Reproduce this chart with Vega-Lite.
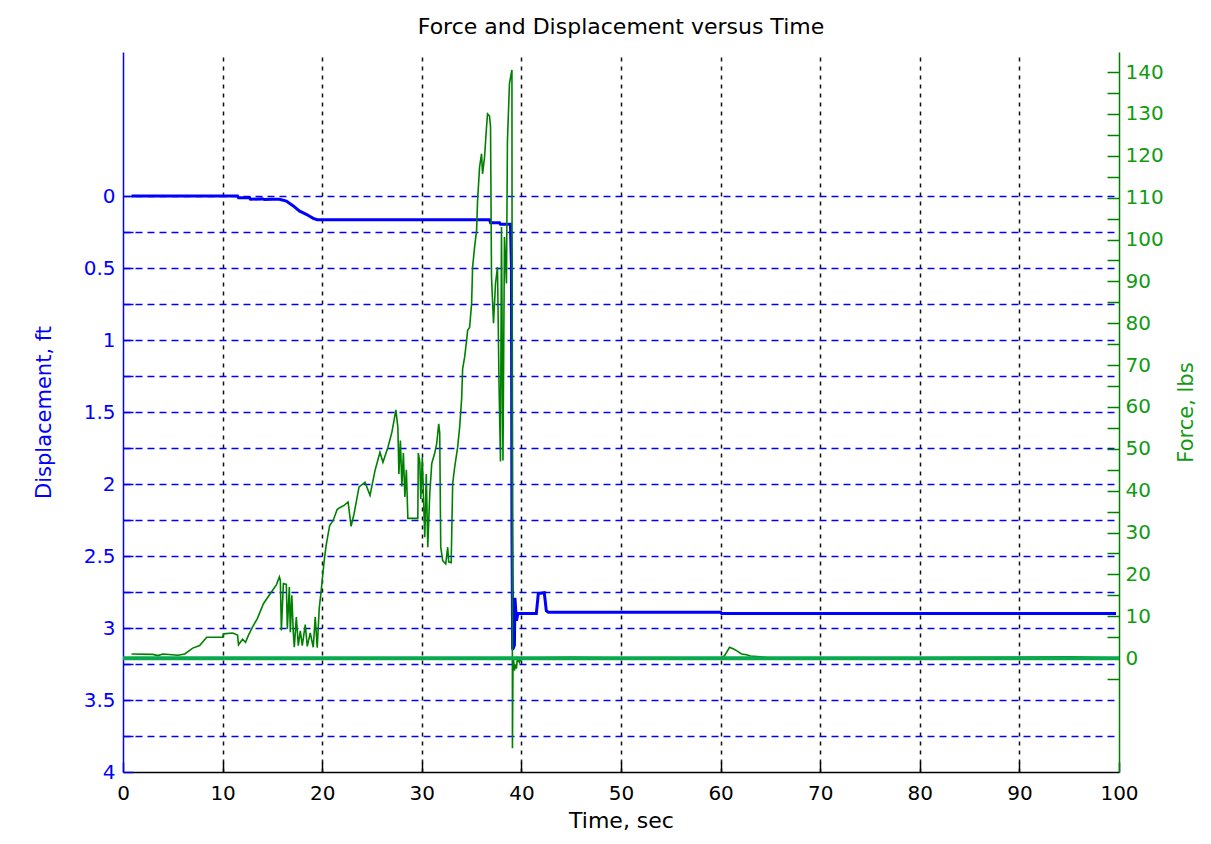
{
  "$schema": "https://vega.github.io/schema/vega-lite/v6.json",
  "width": 996,
  "height": 720,
  "autosize": "none",
  "padding": {"left": 123, "top": 52, "right": 92, "bottom": 72},
  "background": "white",
  "title": {
    "text": "Force and Displacement versus Time",
    "font": "DejaVu Sans",
    "fontSize": 22,
    "fontWeight": "normal",
    "color": "#000000",
    "anchor": "middle",
    "offset": 13
  },
  "config": {
    "view": {"stroke": null},
    "axis": {
      "labelFont": "DejaVu Sans",
      "labelFontSize": 20,
      "titleFont": "DejaVu Sans",
      "titleFontSize": 21,
      "titleFontWeight": "normal",
      "labelOverlap": false,
      "labelBound": false,
      "labelFlush": false
    }
  },
  "datasets": {
    "disp": [
      {"t": 0.85, "d": 0}, {"t": 11.5, "d": 0}, {"t": 11.6, "d": 0.012}, {"t": 12.7, "d": 0.012},
      {"t": 12.8, "d": 0.023}, {"t": 14.0, "d": 0.02}, {"t": 14.2, "d": 0.025}, {"t": 15.0, "d": 0.022},
      {"t": 15.7, "d": 0.023}, {"t": 16.4, "d": 0.035}, {"t": 17.1, "d": 0.069}, {"t": 17.7, "d": 0.104},
      {"t": 18.4, "d": 0.127}, {"t": 19.1, "d": 0.155}, {"t": 19.5, "d": 0.165}, {"t": 36.8, "d": 0.165},
      {"t": 36.9, "d": 0.185}, {"t": 37.8, "d": 0.185}, {"t": 37.9, "d": 0.197}, {"t": 38.9, "d": 0.197},
      {"t": 39.0, "d": 0.49}, {"t": 39.05, "d": 2.3}, {"t": 39.12, "d": 3.15}, {"t": 39.3, "d": 3.12},
      {"t": 39.35, "d": 2.79}, {"t": 39.5, "d": 2.95}, {"t": 39.65, "d": 2.9}, {"t": 41.5, "d": 2.9},
      {"t": 41.7, "d": 2.76}, {"t": 42.3, "d": 2.755}, {"t": 42.5, "d": 2.88}, {"t": 42.7, "d": 2.89},
      {"t": 60.0, "d": 2.89}, {"t": 60.1, "d": 2.9}, {"t": 99.7, "d": 2.9}
    ],
    "force": [
      {"s": "measured", "t": 0.85, "F": 1}, {"s": "measured", "t": 3.0, "F": 0.9}, {"s": "measured", "t": 3.5, "F": 0.6},
      {"s": "measured", "t": 4.0, "F": 1}, {"s": "measured", "t": 5.5, "F": 0.7}, {"s": "measured", "t": 6.2, "F": 1},
      {"s": "measured", "t": 7.0, "F": 2.4}, {"s": "measured", "t": 7.7, "F": 3}, {"s": "measured", "t": 8.4, "F": 5},
      {"s": "measured", "t": 10.0, "F": 5}, {"s": "measured", "t": 10.1, "F": 5.8}, {"s": "measured", "t": 11.0, "F": 6},
      {"s": "measured", "t": 11.5, "F": 5.5}, {"s": "measured", "t": 11.6, "F": 3.2}, {"s": "measured", "t": 12.0, "F": 4.5},
      {"s": "measured", "t": 12.3, "F": 3.8}, {"s": "measured", "t": 12.6, "F": 5.5}, {"s": "measured", "t": 13.0, "F": 7.4},
      {"s": "measured", "t": 13.5, "F": 9.5}, {"s": "measured", "t": 14.1, "F": 13}, {"s": "measured", "t": 14.9, "F": 15.8},
      {"s": "measured", "t": 15.4, "F": 17.5}, {"s": "measured", "t": 15.7, "F": 19.4}, {"s": "measured", "t": 15.8, "F": 18.5},
      {"s": "measured", "t": 15.9, "F": 6.6}, {"s": "measured", "t": 16.1, "F": 17.8}, {"s": "measured", "t": 16.4, "F": 17.6},
      {"s": "measured", "t": 16.5, "F": 7}, {"s": "measured", "t": 16.7, "F": 17}, {"s": "measured", "t": 16.8, "F": 6.2},
      {"s": "measured", "t": 16.95, "F": 15}, {"s": "measured", "t": 17.1, "F": 6}, {"s": "measured", "t": 17.2, "F": 2.6},
      {"s": "measured", "t": 17.4, "F": 9.8}, {"s": "measured", "t": 17.6, "F": 3}, {"s": "measured", "t": 17.8, "F": 6.5},
      {"s": "measured", "t": 18.0, "F": 3}, {"s": "measured", "t": 18.3, "F": 8}, {"s": "measured", "t": 18.5, "F": 2.8},
      {"s": "measured", "t": 18.8, "F": 6}, {"s": "measured", "t": 19.1, "F": 2.6}, {"s": "measured", "t": 19.3, "F": 9.8},
      {"s": "measured", "t": 19.5, "F": 2.5}, {"s": "measured", "t": 19.7, "F": 11.8}, {"s": "measured", "t": 19.9, "F": 16.2},
      {"s": "measured", "t": 20.2, "F": 23.3}, {"s": "measured", "t": 20.4, "F": 27}, {"s": "measured", "t": 20.75, "F": 31.7},
      {"s": "measured", "t": 21.1, "F": 32.9}, {"s": "measured", "t": 21.5, "F": 35.5}, {"s": "measured", "t": 21.8, "F": 36},
      {"s": "measured", "t": 22.2, "F": 36.5}, {"s": "measured", "t": 22.6, "F": 37.3}, {"s": "measured", "t": 22.9, "F": 31.5},
      {"s": "measured", "t": 23.2, "F": 34.5}, {"s": "measured", "t": 23.7, "F": 40.9}, {"s": "measured", "t": 24.3, "F": 42},
      {"s": "measured", "t": 24.8, "F": 38.9}, {"s": "measured", "t": 25.3, "F": 44.8}, {"s": "measured", "t": 25.8, "F": 49.2},
      {"s": "measured", "t": 26.1, "F": 46.8}, {"s": "measured", "t": 26.6, "F": 50.4}, {"s": "measured", "t": 27.0, "F": 54},
      {"s": "measured", "t": 27.4, "F": 59.3}, {"s": "measured", "t": 27.6, "F": 55}, {"s": "measured", "t": 27.7, "F": 44},
      {"s": "measured", "t": 27.85, "F": 52}, {"s": "measured", "t": 28.0, "F": 41}, {"s": "measured", "t": 28.15, "F": 49},
      {"s": "measured", "t": 28.3, "F": 38.5}, {"s": "measured", "t": 28.45, "F": 45}, {"s": "measured", "t": 28.6, "F": 33.4},
      {"s": "measured", "t": 29.6, "F": 33.4}, {"s": "measured", "t": 29.65, "F": 49}, {"s": "measured", "t": 29.8, "F": 46.8},
      {"s": "measured", "t": 29.9, "F": 38}, {"s": "measured", "t": 30.05, "F": 48}, {"s": "measured", "t": 30.2, "F": 36},
      {"s": "measured", "t": 30.3, "F": 28.9}, {"s": "measured", "t": 30.45, "F": 44}, {"s": "measured", "t": 30.6, "F": 26.5},
      {"s": "measured", "t": 30.8, "F": 39.3}, {"s": "measured", "t": 31.0, "F": 46.5}, {"s": "measured", "t": 31.3, "F": 49},
      {"s": "measured", "t": 31.5, "F": 51.3}, {"s": "measured", "t": 31.7, "F": 56}, {"s": "measured", "t": 31.8, "F": 53.7},
      {"s": "measured", "t": 31.9, "F": 26.5}, {"s": "measured", "t": 32.1, "F": 23.3}, {"s": "measured", "t": 32.4, "F": 22.5},
      {"s": "measured", "t": 32.6, "F": 26.5}, {"s": "measured", "t": 32.7, "F": 23}, {"s": "measured", "t": 32.95, "F": 22.8},
      {"s": "measured", "t": 33.1, "F": 41.7}, {"s": "measured", "t": 33.3, "F": 45.6}, {"s": "measured", "t": 33.6, "F": 50.4},
      {"s": "measured", "t": 33.8, "F": 55.2}, {"s": "measured", "t": 34.0, "F": 62}, {"s": "measured", "t": 34.1, "F": 69.1},
      {"s": "measured", "t": 34.3, "F": 71.9}, {"s": "measured", "t": 34.5, "F": 75.9}, {"s": "measured", "t": 34.6, "F": 78.3},
      {"s": "measured", "t": 34.8, "F": 79}, {"s": "measured", "t": 35.0, "F": 84.7}, {"s": "measured", "t": 35.1, "F": 93.4},
      {"s": "measured", "t": 35.3, "F": 98.2}, {"s": "measured", "t": 35.5, "F": 102.2}, {"s": "measured", "t": 35.6, "F": 109.3},
      {"s": "measured", "t": 35.8, "F": 117.3}, {"s": "measured", "t": 36.0, "F": 120.5}, {"s": "measured", "t": 36.1, "F": 115.7},
      {"s": "measured", "t": 36.3, "F": 119.7}, {"s": "measured", "t": 36.5, "F": 126.9}, {"s": "measured", "t": 36.6, "F": 130},
      {"s": "measured", "t": 36.8, "F": 129.5}, {"s": "measured", "t": 36.9, "F": 126.9}, {"s": "measured", "t": 37.0, "F": 91},
      {"s": "measured", "t": 37.2, "F": 80}, {"s": "measured", "t": 37.4, "F": 89.5}, {"s": "measured", "t": 37.6, "F": 93.4},
      {"s": "measured", "t": 37.75, "F": 66}, {"s": "measured", "t": 37.9, "F": 47}, {"s": "measured", "t": 38.0, "F": 103},
      {"s": "measured", "t": 38.15, "F": 47.2}, {"s": "measured", "t": 38.3, "F": 100.6}, {"s": "measured", "t": 38.5, "F": 89.5},
      {"s": "measured", "t": 38.6, "F": 123.7}, {"s": "measured", "t": 38.8, "F": 137.2}, {"s": "measured", "t": 39.0, "F": 140},
      {"s": "measured", "t": 39.05, "F": 140.5}, {"s": "measured", "t": 39.1, "F": -21.5}, {"s": "measured", "t": 39.15, "F": -3},
      {"s": "measured", "t": 39.2, "F": 0}, {"s": "measured", "t": 39.3, "F": -3}, {"s": "measured", "t": 39.4, "F": -1.5},
      {"s": "measured", "t": 39.5, "F": -2.5}, {"s": "measured", "t": 39.6, "F": 0}, {"s": "measured", "t": 39.8, "F": -1},
      {"s": "measured", "t": 40.0, "F": 0}, {"s": "measured", "t": 45.0, "F": 0.2}, {"s": "measured", "t": 50.0, "F": 0},
      {"s": "measured", "t": 55.0, "F": 0.1}, {"s": "measured", "t": 60.0, "F": 0}, {"s": "measured", "t": 60.4, "F": 0.6},
      {"s": "measured", "t": 60.9, "F": 2.6}, {"s": "measured", "t": 61.3, "F": 2.2}, {"s": "measured", "t": 61.6, "F": 1.8},
      {"s": "measured", "t": 62.1, "F": 1}, {"s": "measured", "t": 62.6, "F": 0.8}, {"s": "measured", "t": 63.0, "F": 0.5},
      {"s": "measured", "t": 64.0, "F": 0.3}, {"s": "measured", "t": 65.0, "F": 0}, {"s": "measured", "t": 80.0, "F": 0.1},
      {"s": "measured", "t": 90.0, "F": 0.2}, {"s": "measured", "t": 95.0, "F": 0.3}, {"s": "measured", "t": 99.7, "F": 0},
      {"s": "zero", "t": 0, "F": 0}, {"s": "zero", "t": 100, "F": 0}
    ]
  },
  "layer": [
    {
      "data": {"name": "disp"},
      "mark": {"type": "line", "color": "#0000ff", "strokeWidth": 3, "clip": true},
      "encoding": {
        "x": {
          "field": "t",
          "type": "quantitative",
          "scale": {"domain": [0, 100], "nice": false, "zero": false},
          "axis": {
            "orient": "bottom",
            "values": [0, 10, 20, 30, 40, 50, 60, 70, 80, 90, 100],
            "format": "d",
            "title": "Time, sec",
            "titleColor": "#000000",
            "titleFontSize": 22,
            "titlePadding": 7,
            "labelColor": "#000000",
            "labelPadding": 21,
            "domainColor": "#000000",
            "domainWidth": 1.5,
            "tickColor": "#000000",
            "tickSize": -10,
            "tickWidth": 1.5,
            "grid": true,
            "gridColor": "#111111",
            "gridDash": [4, 5],
            "gridWidth": 1.5,
            "gridOpacity": {"condition": {"test": "datum.value <= 0 || datum.value >= 100", "value": 0}, "value": 1}
          }
        },
        "y": {
          "field": "d",
          "type": "quantitative",
          "scale": {"domain": [-1, 4], "reverse": true, "nice": false, "zero": false},
          "axis": {
            "orient": "left",
            "values": [0, 0.25, 0.5, 0.75, 1, 1.25, 1.5, 1.75, 2, 2.25, 2.5, 2.75, 3, 3.25, 3.5, 3.75, 4],
            "labelExpr": "datum.value % 0.5 === 0 ? format(datum.value, '~g') : ''",
            "title": "Displacement, ft",
            "titleColor": "#0000ff",
            "titlePadding": 29,
            "labelColor": "#0000ff",
            "labelPadding": 18,
            "domainColor": "#0000ff",
            "domainWidth": 1.5,
            "tickColor": "#0000ff",
            "tickSize": -10,
            "tickWidth": 1.5,
            "grid": true,
            "gridColor": "#0000ff",
            "gridDash": [7, 5],
            "gridWidth": 1.3,
            "gridOpacity": {"condition": {"test": "datum.value >= 4", "value": 0}, "value": 1}
          }
        }
      }
    },
    {
      "data": {"name": "force"},
      "mark": {"type": "line", "clip": true},
      "encoding": {
        "x": {
          "field": "t",
          "type": "quantitative",
          "scale": {"domain": [0, 100], "nice": false, "zero": false}
        },
        "y": {
          "field": "F",
          "type": "quantitative",
          "scale": {"domain": [-27.2, 144.8], "nice": false, "zero": false},
          "axis": {
            "orient": "right",
            "values": [-5, 0, 5, 10, 15, 20, 25, 30, 35, 40, 45, 50, 55, 60, 65, 70, 75, 80, 85, 90, 95, 100, 105, 110, 115, 120, 125, 130, 135, 140, 145],
            "labelExpr": "(datum.value % 10 === 0 && datum.value >= 0 && datum.value <= 140) ? datum.label : ''",
            "format": "d",
            "title": "Force, lbs",
            "titleColor": "#129a12",
            "titleAngle": 270,
            "titleBaseline": "top",
            "titlePadding": 12,
            "labelColor": "#129a12",
            "labelPadding": 18,
            "domainColor": "#008000",
            "domainWidth": 1.5,
            "tickColor": "#008000",
            "tickSize": -12,
            "tickWidth": 1.5,
            "grid": false
          }
        },
        "detail": {"field": "s", "type": "nominal"},
        "color": {
          "field": "s",
          "type": "nominal",
          "scale": {"domain": ["measured", "zero"], "range": ["#008000", "#0aa84f"]},
          "legend": null
        },
        "strokeWidth": {
          "field": "s",
          "type": "nominal",
          "scale": {"domain": ["measured", "zero"], "range": [1.6, 4]},
          "legend": null
        }
      }
    }
  ],
  "resolve": {"scale": {"y": "independent"}, "axis": {"y": "independent"}}
}
